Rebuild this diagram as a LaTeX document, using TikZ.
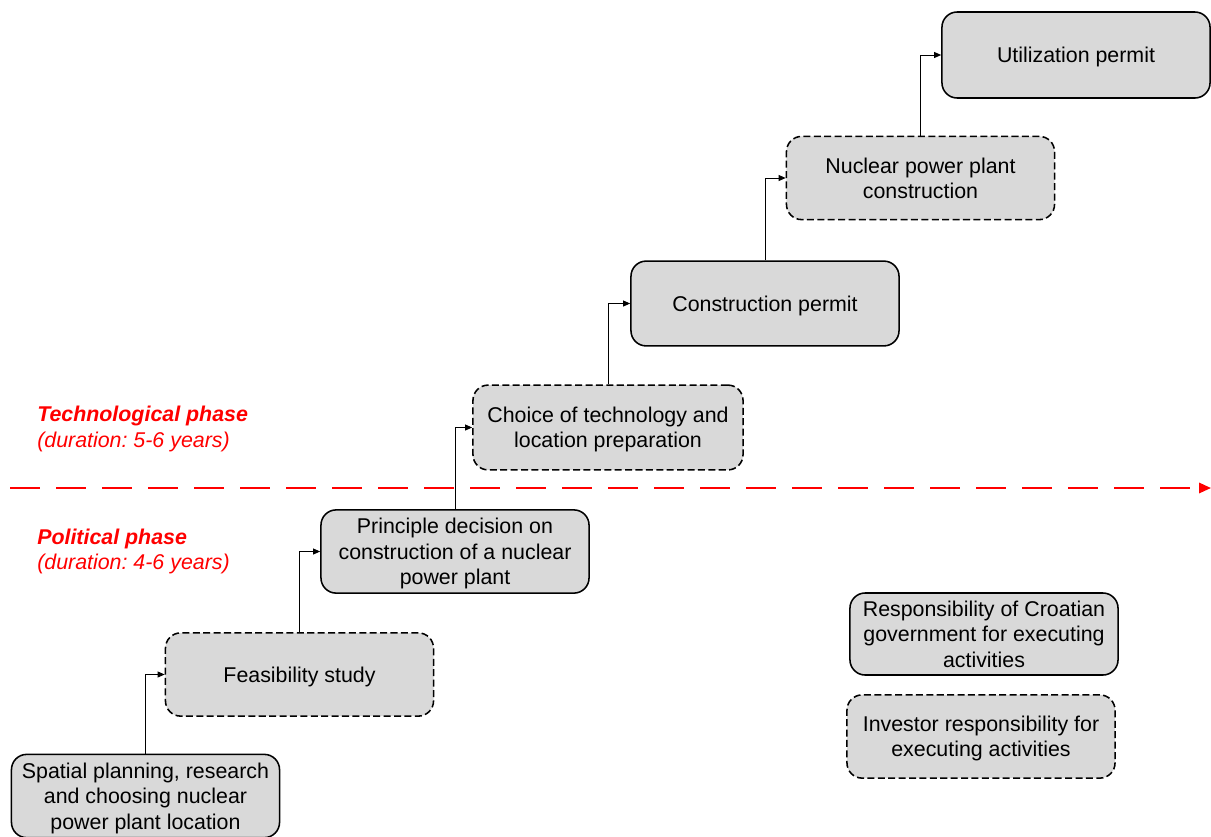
\documentclass[tikz,border=0pt]{standalone}
\usepackage{fontspec}
\setmainfont{Liberation Sans}
\usetikzlibrary{arrows.meta}
\definecolor{boxgray}{HTML}{D9D9D9}
\definecolor{phasered}{HTML}{FF0000}
\newcommand{\boxfont}{\fontsize{15.2}{18.1}\selectfont}
\frenchspacing

\tikzset{
  govbox/.style={draw=black, line width=1.1pt, fill=boxgray, rounded corners=0.38cm,
    minimum width=6.7cm, minimum height=2.08cm, align=center, font=\boxfont,
    inner sep=2pt, text depth=0pt},
  invbox/.style={govbox, dash pattern=on 5pt off 2.4pt},
  stepline/.style={-{Triangle[length=5pt,width=4.2pt]}, line width=0.7pt},
  phaselabel/.style={text=phasered, anchor=west, align=left, inner sep=0pt, font=\boxfont}
}

\begin{document}
\begin{tikzpicture}[x=0.025cm, y=-0.025cm]
\useasboundingbox (0,0) rectangle (1211,836);

% Phase divider
\coordinate (axisL) at (10,488);
\coordinate (axisR) at (1211,488);
\draw[phasered, line width=1.4pt, dash pattern=on 0.75cm off 0.4cm,
      -{Triangle[length=0.3cm, width=0.26cm]}] (axisL) -- (axisR);

% Phase labels
\node[phaselabel] (techlabel) at (37,429) {\textbf{\textit{Technological phase}}\\\textit{(duration: 5-6 years)}};
\node[phaselabel] (pollabel) at (37,551.5) {\textbf{\textit{Political phase}}\\\textit{(duration: 4-6 years)}};

% Steps
\node[govbox] (spatial) at (145.5,796) {Spatial planning, research\\and choosing nuclear\\power plant location};
\node[invbox] (feasibility) at (299.5,674.5) {Feasibility study};
\node[govbox] (decision) at (455,551.5) {Principle decision on\\construction of a nuclear\\power plant};
\node[invbox, minimum width=6.75cm, minimum height=2.12cm] (choice) at (608,427.5) {Choice of technology and\\location preparation};
\node[govbox, minimum height=2.12cm] (conspermit) at (765,303.5) {Construction permit};
\node[invbox] (construction) at (920.5,178) {Nuclear power plant\\construction};
\node[govbox, minimum height=2.15cm] (utilpermit) at (1076,55) {Utilization permit};

% Connectors
\draw[stepline] (spatial.north) |- (feasibility.west);
\draw[stepline] (feasibility.north) |- (decision.west);
\draw[stepline] (decision.north) |- (choice.west);
\draw[stepline] (choice.north) |- (conspermit.west);
\draw[stepline] (conspermit.north) |- (construction.west);
\draw[stepline] (construction.north) |- (utilpermit.west);

% Legend
\node[govbox, minimum height=2.05cm] (govlegend) at (984,634) {Responsibility of Croatian\\government for executing\\activities};
\node[invbox] (invlegend) at (981,736.5) {Investor responsibility for\\executing activities};

\end{tikzpicture}
\end{document}
